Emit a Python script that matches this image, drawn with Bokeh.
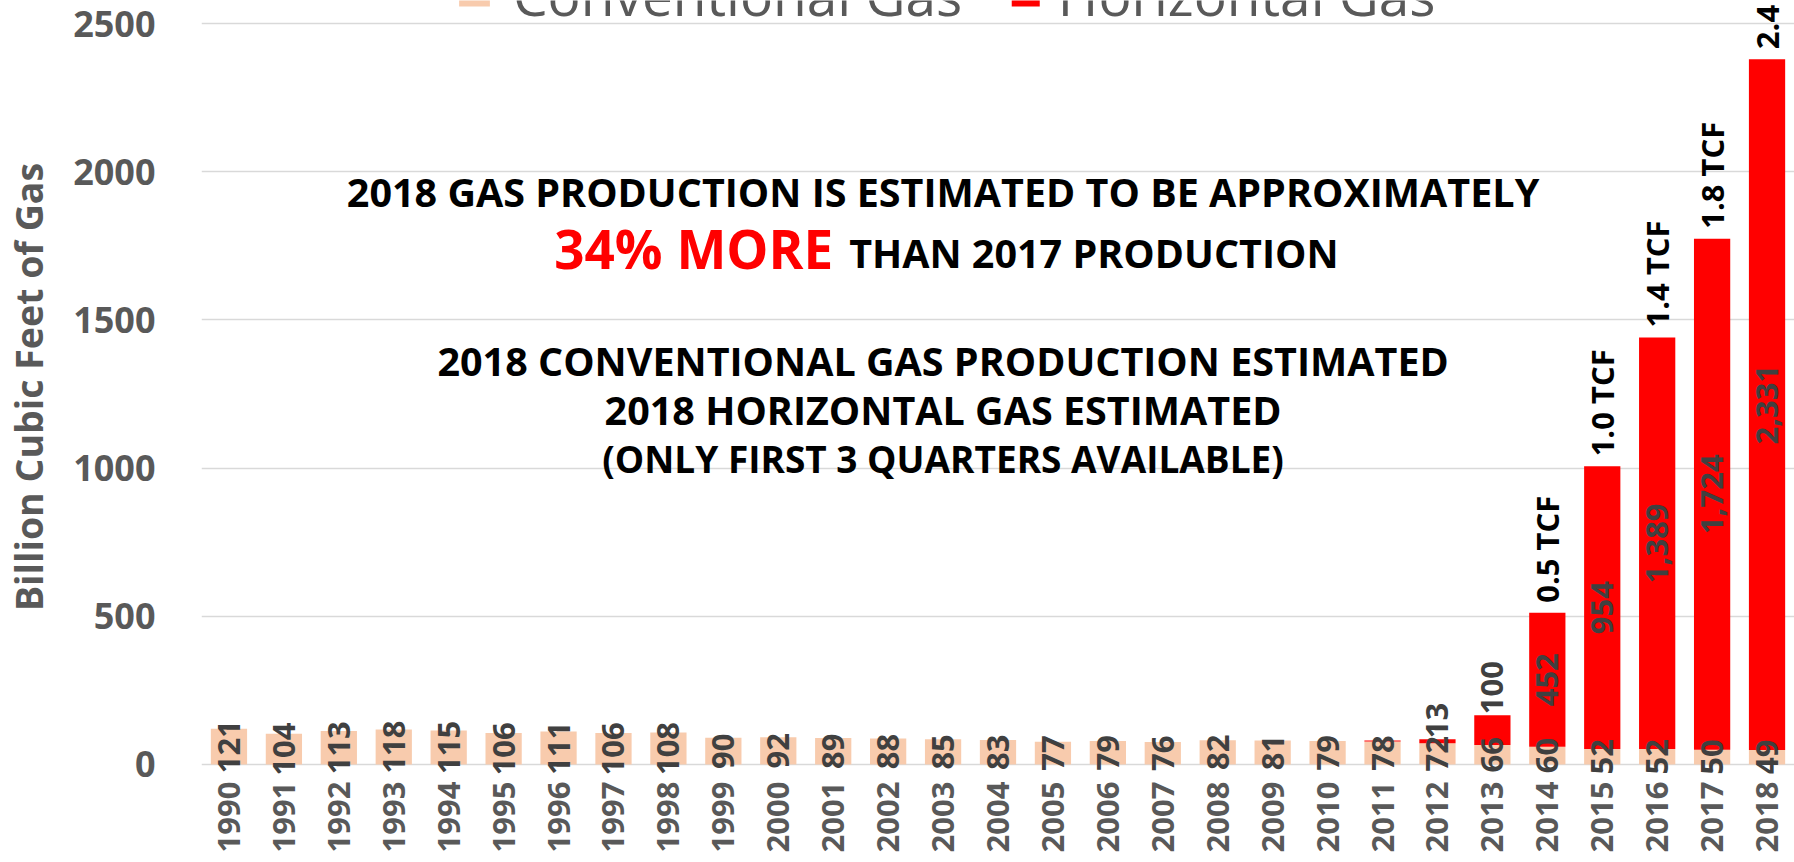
from math import pi
from bokeh.plotting import figure
from bokeh.models import Range1d, ColumnDataSource, LabelSet, FixedTicker, Label
from bokeh.embed import file_html
from bokeh.resources import INLINE
from bokeh.core.properties import value

# ---------------- data ----------------
years = list(range(1990, 2019))
conventional = [121, 104, 113, 118, 115, 106, 111, 106, 108, 90, 92, 89, 88, 85, 83,
                77, 79, 76, 82, 81, 79, 78, 72, 66, 60, 52, 52, 50, 49]
horizontal = [0] * 20 + [0, 3, 13, 100, 452, 954, 1389, 1724, 2331]
tcf_years = [2014, 2015, 2016, 2017, 2018]
tcf_labels = ["0.5 TCF", "1.0 TCF", "1.4 TCF", "1.8 TCF", "2.4 TCF"]
y_ticks = [0, 500, 1000, 1500, 2000, 2500]
series_names = ["Conventional Gas", "Horizontal Gas"]

# ---------------- styles ----------------
PEACH = "#F8CBAD"
RED = "#FF0000"
GRID = "#D9D9D9"
AXIS_TXT = "#595959"
LBL_TXT = "#404040"
SANS = "Open Sans"
ROT_SIZE = "31px"

totals = [c + h for c, h in zip(conventional, horizontal)]
src = ColumnDataSource(dict(year=years, conv=conventional, horiz=horizontal))

p = figure(width=1794, height=862,
           x_range=Range1d(1989.5, 2018.5), y_range=Range1d(-30.4, 2578),
           output_backend="svg", toolbar_location=None,
           min_border_left=192, min_border_right=0, min_border_top=0,
           min_border_bottom=89)
p.outline_line_color = None
p.background_fill_color = "white"
p.border_fill_color = "white"

p.vbar_stack(["conv", "horiz"], x="year", width=0.66, color=[PEACH, RED],
             line_color=None, source=src)

# grid / axes
p.xgrid.grid_line_color = None
p.ygrid.grid_line_color = GRID
p.ygrid.grid_line_width = 1.5
p.yaxis.ticker = FixedTicker(ticks=y_ticks)
p.xaxis.ticker = FixedTicker(ticks=years)

p.yaxis.axis_line_color = None
p.yaxis.major_tick_line_color = None
p.yaxis.minor_tick_line_color = None
p.yaxis.major_label_standoff = 40
p.yaxis.major_label_text_font = SANS
p.yaxis.major_label_text_font_style = "bold"
p.yaxis.major_label_text_font_size = "36px"
p.yaxis.major_label_text_color = AXIS_TXT
p.yaxis.axis_label = "Billion Cubic Feet of Gas"
p.yaxis.axis_label_text_font = SANS
p.yaxis.axis_label_text_font_style = "bold"
p.yaxis.axis_label_text_font_size = "37.5px"
p.yaxis.axis_label_text_color = AXIS_TXT
p.yaxis.axis_label_standoff = 16

p.xaxis.axis_line_color = None
p.xaxis.major_tick_line_color = None
p.xaxis.minor_tick_line_color = None
p.xaxis.major_tick_out = 0
p.xaxis.major_label_orientation = pi / 2
p.xaxis.major_label_standoff = 8
p.xaxis.major_label_text_font = SANS
p.xaxis.major_label_text_font_style = "bold"
p.xaxis.major_label_text_font_size = "31px"
p.xaxis.major_label_text_color = AXIS_TXT

# ---------------- data labels ----------------
conv_src = ColumnDataSource(dict(
    x=years, y=[c / 2 for c in conventional], t=[str(c) for c in conventional]))
p.add_layout(LabelSet(x="x", y="y", text="t", source=conv_src, angle=pi / 2,
                      text_align="center", text_baseline="middle",
                      text_font=value(SANS), text_font_style="bold",
                      text_font_size=ROT_SIZE, text_color=LBL_TXT))

in_x, in_y, in_t, up_x, up_y, up_t = [], [], [], [], [], []
for yr, c, h in zip(years, conventional, horizontal):
    if h >= 150:
        in_x.append(yr); in_y.append(c + h / 2); in_t.append(f"{h:,}")
    elif h >= 10:
        up_x.append(yr); up_y.append(c + h); up_t.append(f"{h:,}")
p.add_layout(LabelSet(x="x", y="y", text="t",
                      source=ColumnDataSource(dict(x=in_x, y=in_y, t=in_t)),
                      angle=pi / 2, text_align="center", text_baseline="middle",
                      text_font=value(SANS), text_font_style="bold",
                      text_font_size=ROT_SIZE, text_color=LBL_TXT))
p.add_layout(LabelSet(x="x", y="y", text="t",
                      source=ColumnDataSource(dict(x=up_x, y=up_y, t=up_t)),
                      angle=pi / 2, text_align="left", text_baseline="middle",
                      y_offset=1,
                      text_font=value(SANS), text_font_style="bold",
                      text_font_size=ROT_SIZE, text_color=LBL_TXT))

tcf_y = [totals[years.index(y)] for y in tcf_years]
p.add_layout(LabelSet(x="x", y="y", text="t",
                      source=ColumnDataSource(dict(x=tcf_years, y=tcf_y, t=tcf_labels)),
                      angle=pi / 2, text_align="left", text_baseline="middle",
                      y_offset=10,
                      text_font=value(SANS), text_font_style="bold",
                      text_font_size=ROT_SIZE, text_color="black"))

# ---------------- legend (cut off at the top) ----------------
p.quad(left=[1994.19, 2004.25], right=[1994.75, 2004.76], bottom=[2558, 2558],
       top=[2700, 2700], color=[PEACH, RED], line_color=None)
p.text(x=[1995.17, 2005.09], y=[2597, 2597], text=series_names,
       text_font=value(SANS), text_font_size="55px", text_color=AXIS_TXT,
       text_align="left", text_baseline="middle")

# ---------------- annotation text ----------------
CX = 2003.0
def note(x, y, text, size="39.5px", color="black", align="center"):
    p.add_layout(Label(x=x, y=y, text=text, text_align=align,
                       text_baseline="middle", text_font=SANS,
                       text_font_style="bold", text_font_size=size,
                       text_color=color))

note(CX, 1932, "2018 GAS PRODUCTION IS ESTIMATED TO BE APPROXIMATELY")
note(2001.0, 1740, "34% MORE", size="53px", color=RED, align="right")
note(2001.29, 1727, "THAN 2017 PRODUCTION", align="left")
note(CX, 1362, "2018 CONVENTIONAL GAS PRODUCTION ESTIMATED")
note(CX, 1196, "2018 HORIZONTAL GAS ESTIMATED")
note(CX, 1033, "(ONLY FIRST 3 QUARTERS AVAILABLE)", size="37px")

open("out.html", "w").write(file_html(p, INLINE))
